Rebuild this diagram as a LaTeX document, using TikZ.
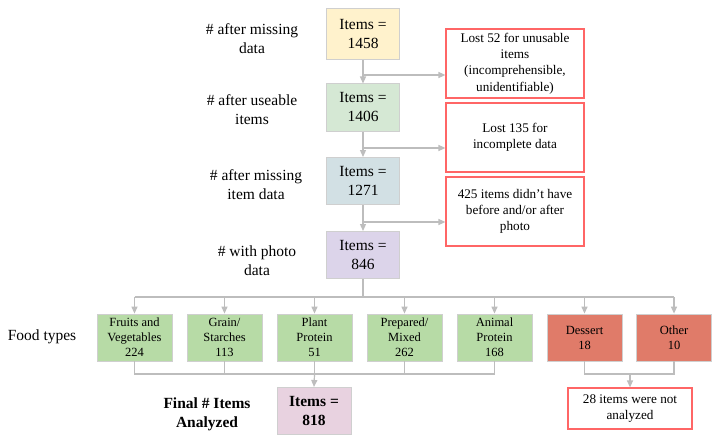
\documentclass[tikz,border=0pt]{standalone}
\usepackage{fontspec}
\setmainfont{Liberation Serif}
\usetikzlibrary{arrows.meta}
\definecolor{cyel}{HTML}{FFF2CC}
\definecolor{cgrn}{HTML}{D5E8D4}
\definecolor{cblu}{HTML}{D2E0E4}
\definecolor{cpur}{HTML}{DCD4EA}
\definecolor{cpnk}{HTML}{E8D2E0}
\definecolor{cfood}{HTML}{B7DBA6}
\definecolor{csal}{HTML}{E07B69}
\definecolor{cred}{HTML}{FF6666}
\definecolor{cbord}{HTML}{CFCFCF}
\definecolor{cline}{HTML}{BDBDBD}
\tikzset{
  mainbox/.style={draw=cbord, line width=1pt, minimum width=73pt, minimum height=47pt, align=center, font=\fontsize{15.5}{19}\selectfont, inner sep=1pt},
  redbox/.style={draw=cred, line width=1.2pt, fill=white, minimum width=138pt, minimum height=69pt, align=center, font=\fontsize{13.2}{16.2}\selectfont, inner sep=1pt},
  foodbox/.style={draw=cbord, line width=0.8pt, minimum width=75pt, minimum height=47pt, align=center, font=\fontsize{12.5}{15}\selectfont, inner sep=1pt},
  lab/.style={align=center, font=\fontsize{15.5}{19}\selectfont},
  conn/.style={draw=cline, line width=1.2pt},
  arr/.style={conn, -{Triangle[width=6pt,length=7pt]}},
}
\begin{document}
\begin{tikzpicture}[x=1pt,y=-1pt]
\useasboundingbox[fill=white] (0,0) rectangle (719,441);

% main column
\node[mainbox, fill=cyel, minimum height=51pt] (b1) at (363,34.5) {Items =\\1458};
\node[mainbox, fill=cgrn] (b2) at (363,107.5) {Items =\\1406};
\node[mainbox, fill=cblu] (b3) at (363,181) {Items =\\1271};
\node[mainbox, fill=cpur] (b4) at (363,255) {Items =\\846};
\node[mainbox, fill=cpnk, minimum width=74pt, font=\fontsize{15.5}{19}\selectfont\bfseries] (fin) at (314,411) {Items =\\818};

% left labels
\node[lab] (l1) at (252,39) {\# after missing\\data};
\node[lab] (l2) at (252,110) {\# after useable\\items};
\node[lab] (l3) at (256,185) {\# after missing\\item data};
\node[lab] (l4) at (257,261) {\# with photo\\data};
\node[lab] (lf) at (42,337) {Food types};
\node[lab, font=\fontsize{15.5}{19}\selectfont\bfseries] (lfin) at (207,414) {Final \# Items\\Analyzed};

% right loss boxes
\node[redbox] (rA) at (515,63.5) {Lost 52 for unusable\\items\\(incomprehensible,\\unidentifiable)};
\node[redbox] (rB) at (515,137.5) {Lost 135 for\\incomplete data};
\node[redbox] (rC) at (515,211.5) {425 items didn't have\\before and/or after\\photo};

% food boxes
\node[foodbox, fill=cfood] (f1) at (134.5,337.5) {Fruits and\\Vegetables\\224};
\node[foodbox, fill=cfood] (f2) at (224.5,337.5) {Grain/\\Starches\\113};
\node[foodbox, fill=cfood] (f3) at (314.5,337.5) {Plant\\Protein\\51};
\node[foodbox, fill=cfood] (f4) at (404.5,337.5) {Prepared/\\Mixed\\262};
\node[foodbox, fill=cfood] (f5) at (494.5,337.5) {Animal\\Protein\\168};
\node[foodbox, fill=csal] (f6) at (584.5,337.5) {Dessert\\18};
\node[foodbox, fill=csal] (f7) at (674,337.5) {Other\\10};

\node[redbox, minimum width=124pt, minimum height=41pt] (na) at (630,408.5) {28 items were not\\analyzed};

% main column arrows
\draw[arr] (b1) -- (b2);
\draw[arr] (b2) -- (b3);
\draw[arr] (b3) -- (b4);
\coordinate (j1) at (363,75);
\coordinate (j2) at (363,148);
\coordinate (j3) at (363,222);
\draw[arr] (j1) -- (j1 -| rA.west);
\draw[arr] (j2) -- (j2 -| rB.west);
\draw[arr] (j3) -- (j3 -| rC.west);

% distribution
\coordinate (d) at (363,297);
\draw[conn] (b4) -- (d);
\draw[conn] (f1.north |- d) -- (f7.north |- d);
\foreach \f in {f1,f2,f3,f4,f5,f6,f7} {\draw[arr] (\f.north |- d) -- (\f.north);}

% collection
\coordinate (c) at (314.5,374);
\draw[conn] (f1.south) -- (f1.south |- c) -- (f5.south |- c) -- (f5.south);
\foreach \f in {f2,f3,f4} {\draw[conn] (\f.south) -- (\f.south |- c);}
\draw[arr] (c) -- (fin.north);

\coordinate (c2) at (630,374);
\draw[conn] (f6.south) -- (f6.south |- c2) -- (f7.south |- c2) -- (f7.south);
\draw[arr] (c2) -- (na.north);
\end{tikzpicture}
\end{document}
